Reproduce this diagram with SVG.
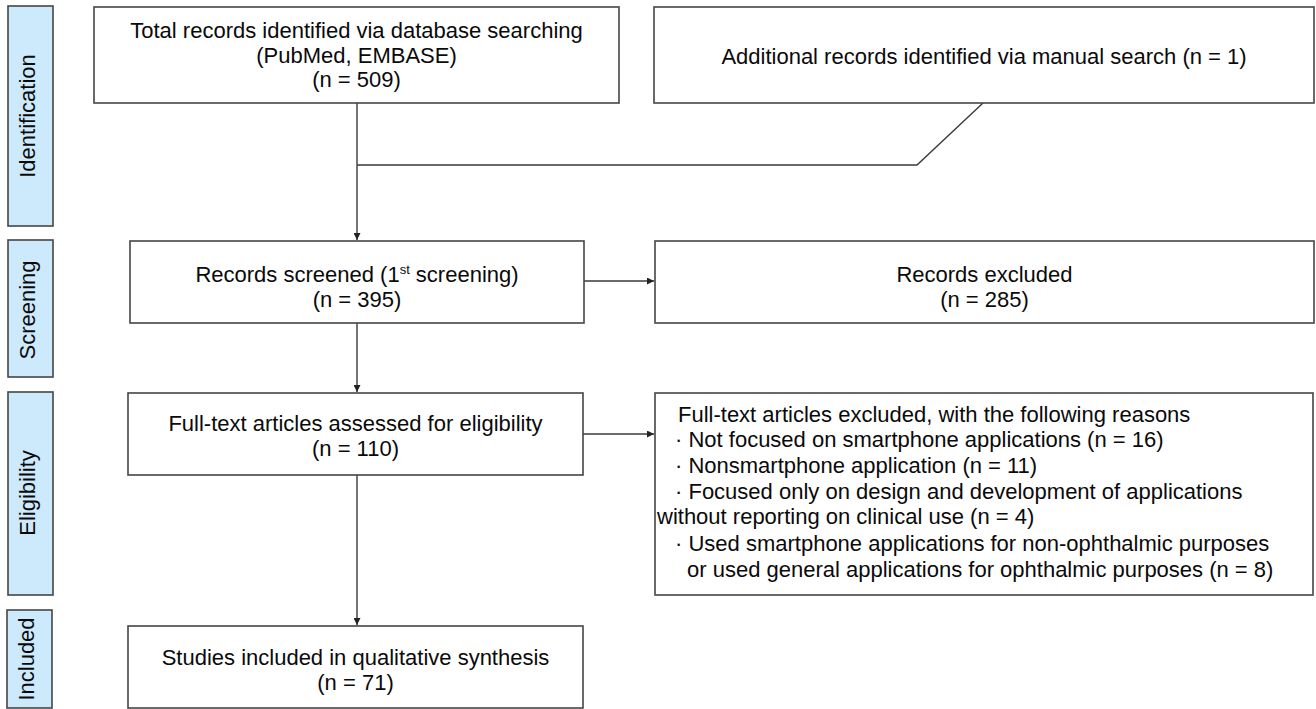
<svg xmlns="http://www.w3.org/2000/svg" width="1316" height="709" viewBox="0 0 1316 709">
<defs>
<style>
.bg{fill:#ffffff}
.side{fill:#cde9fc;stroke:#454545;stroke-width:1.6}
.box{fill:#ffffff;stroke:#454545;stroke-width:1.6}
.t{font-family:"Liberation Sans",Arial,sans-serif;font-size:22px;fill:#0a0a0a}
.c{text-anchor:middle}
.s{font-family:"Liberation Sans",Arial,sans-serif;font-size:22px;fill:#0a0a0a;text-anchor:middle}
.ln{fill:none;stroke:#3a3a3a;stroke-width:1.4}
</style>
<marker id="ah" viewBox="0 0 10 10" refX="10" refY="5" markerWidth="7" markerHeight="7" markerUnits="userSpaceOnUse" orient="auto">
<path d="M0,0 L10,5 L0,10 z" fill="#222"/>
</marker>
</defs>
<rect class="bg" x="0" y="0" width="1316" height="709"/>

<g id="stage-identification">
<rect class="side" x="8" y="6" width="45" height="220"/>
<text class="s" transform="translate(35,116) rotate(-90)">Identification</text>
</g>
<g id="stage-screening">
<rect class="side" x="8" y="240" width="45" height="137"/>
<text class="s" transform="translate(35,310) rotate(-90)">Screening</text>
</g>
<g id="stage-eligibility">
<rect class="side" x="8" y="392" width="45" height="203"/>
<text class="s" transform="translate(35,493) rotate(-90)">Eligibility</text>
</g>
<g id="stage-included">
<rect class="side" x="7" y="610" width="45" height="98"/>
<text class="s" transform="translate(34,659) rotate(-90)">Included</text>
</g>

<g id="connectors">
<line class="ln" x1="357" y1="103" x2="357" y2="240" marker-end="url(#ah)"/>
<polyline class="ln" points="357,165 917,165 983,103"/>
<line class="ln" x1="584" y1="281" x2="654" y2="281" marker-end="url(#ah)"/>
<line class="ln" x1="357" y1="323" x2="357" y2="392" marker-end="url(#ah)"/>
<line class="ln" x1="583" y1="434" x2="654" y2="434" marker-end="url(#ah)"/>
<line class="ln" x1="357" y1="475" x2="357" y2="625" marker-end="url(#ah)"/>
</g>

<g id="n-database">
<rect class="box" x="94" y="7" width="525" height="96"/>
<text class="t c" x="356.5" y="38">Total records identified via database searching</text>
<text class="t c" x="356.5" y="63">(PubMed, EMBASE)</text>
<text class="t c" x="356.5" y="87">(n = 509)</text>
</g>
<g id="n-manual">
<rect class="box" x="654" y="7" width="660" height="96"/>
<text class="t c" x="984" y="64">Additional records identified via manual search (n = 1)</text>
</g>
<g id="n-screened">
<rect class="box" x="130" y="241" width="454" height="82"/>
<text class="t c" x="357" y="282">Records screened (1<tspan font-size="13" dy="-8">st</tspan><tspan dy="8"> screening)</tspan></text>
<text class="t c" x="357" y="307">(n = 395)</text>
</g>
<g id="n-excluded">
<rect class="box" x="655" y="241" width="659" height="82"/>
<text class="t c" x="984.5" y="282">Records excluded</text>
<text class="t c" x="984.5" y="307">(n = 285)</text>
</g>
<g id="n-fulltext">
<rect class="box" x="128" y="393" width="455" height="82"/>
<text class="t c" x="355.5" y="431">Full-text articles assessed for eligibility</text>
<text class="t c" x="355.5" y="456">(n = 110)</text>
</g>
<g id="n-fulltext-excluded">
<rect class="box" x="655" y="393" width="658" height="202"/>
<text class="t" x="678" y="422">Full-text articles excluded, with the following reasons</text>
<text class="t" x="675" y="447">· Not focused on smartphone applications (n = 16)</text>
<text class="t" x="675" y="473">· Nonsmartphone application (n = 11)</text>
<text class="t" x="675" y="499">· Focused only on design and development of applications</text>
<text class="t" x="657" y="524">without reporting on clinical use (n = 4)</text>
<text class="t" x="675" y="551">· Used smartphone applications for non-ophthalmic purposes</text>
<text class="t" x="687" y="577">or used general applications for ophthalmic purposes (n = 8)</text>
</g>
<g id="n-included">
<rect class="box" x="128" y="626" width="455" height="82"/>
<text class="t c" x="355.5" y="665">Studies included in qualitative synthesis</text>
<text class="t c" x="355.5" y="690">(n = 71)</text>
</g>
</svg>
